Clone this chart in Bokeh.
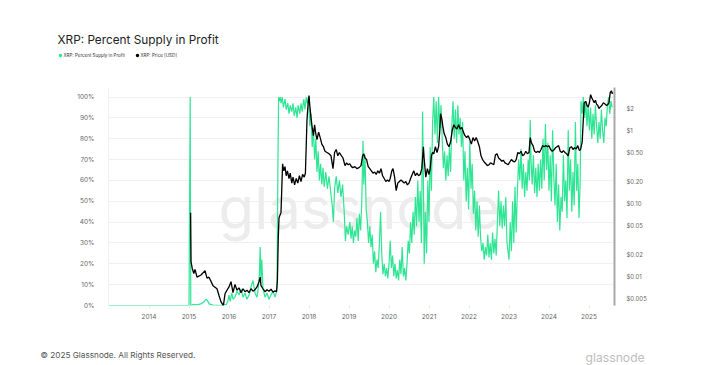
import pandas as pd
from bokeh.plotting import figure
from bokeh.layouts import column
from bokeh.models import Range1d, LogAxis, FixedTicker, Label, LogScale
from bokeh.embed import file_html
from bokeh.resources import INLINE

# ---------------- data (decimal years) ----------------
pct_t = [2013.0, 2015.0, 2015.03, 2015.045, 2015.06, 2015.1, 2015.2, 2015.3, 2015.36, 2015.42,
         2015.46, 2015.5, 2015.6, 2015.8, 2015.93, 2015.97, 2016.0, 2016.03, 2016.07, 2016.1,
         2016.15, 2016.2, 2016.25, 2016.3, 2016.35, 2016.4, 2016.45, 2016.5, 2016.55, 2016.6,
         2016.65, 2016.7, 2016.73, 2016.76, 2016.78, 2016.8, 2016.82, 2016.85, 2016.9, 2016.95,
         2017.0, 2017.05, 2017.1, 2017.15, 2017.18, 2017.2, 2017.22, 2017.24,
         2017.26, 2017.28, 2017.3, 2017.33, 2017.36, 2017.4, 2017.43, 2017.47, 2017.5, 2017.53,
         2017.57, 2017.6, 2017.63, 2017.67, 2017.7, 2017.73, 2017.77, 2017.8, 2017.83, 2017.87,
         2017.9, 2017.93, 2017.96, 2017.99,
         2018.02, 2018.05, 2018.08, 2018.11, 2018.14, 2018.17, 2018.2, 2018.23, 2018.26, 2018.29,
         2018.32, 2018.35, 2018.38, 2018.42, 2018.46, 2018.5, 2018.54, 2018.58, 2018.61, 2018.64,
         2018.68, 2018.72, 2018.76, 2018.8, 2018.84, 2018.88, 2018.91, 2018.94, 2018.98,
         2019.02, 2019.05, 2019.08, 2019.11, 2019.14, 2019.17, 2019.2, 2019.23, 2019.26, 2019.29,
         2019.32, 2019.35, 2019.37, 2019.4, 2019.43, 2019.46, 2019.49, 2019.52, 2019.55, 2019.58,
         2019.61, 2019.64, 2019.67, 2019.7, 2019.73, 2019.76, 2019.79, 2019.82, 2019.85, 2019.88,
         2019.91, 2019.94, 2019.97,
         2020.0, 2020.03, 2020.06, 2020.09, 2020.12, 2020.15, 2020.18, 2020.21, 2020.24, 2020.27,
         2020.3, 2020.33, 2020.36, 2020.39, 2020.42, 2020.45, 2020.48, 2020.51, 2020.54, 2020.57,
         2020.6, 2020.63, 2020.66, 2020.69, 2020.72, 2020.75, 2020.78, 2020.81, 2020.84, 2020.86,
         2020.88, 2020.91, 2020.94, 2020.97, 2021.0,
         2021.03, 2021.06, 2021.09, 2021.12, 2021.15, 2021.18, 2021.21, 2021.24, 2021.27, 2021.3,
         2021.33, 2021.36, 2021.39, 2021.42, 2021.45, 2021.48, 2021.51, 2021.54, 2021.57, 2021.6,
         2021.63, 2021.66, 2021.69, 2021.72, 2021.75, 2021.78, 2021.81, 2021.84, 2021.87, 2021.9,
         2021.93, 2021.96, 2021.99,
         2022.02, 2022.05, 2022.08, 2022.11, 2022.14, 2022.17, 2022.2, 2022.23, 2022.26, 2022.29,
         2022.32, 2022.35, 2022.38, 2022.41, 2022.44, 2022.47, 2022.5, 2022.53, 2022.56, 2022.59,
         2022.62, 2022.65, 2022.68, 2022.71, 2022.74, 2022.77, 2022.8, 2022.83, 2022.86, 2022.89,
         2022.92, 2022.95,
         2023.0, 2023.03, 2023.06, 2023.09, 2023.12, 2023.15, 2023.18, 2023.21, 2023.24, 2023.27,
         2023.3, 2023.33, 2023.36, 2023.39, 2023.42, 2023.45, 2023.48, 2023.51, 2023.53, 2023.55,
         2023.58, 2023.61, 2023.64, 2023.67, 2023.7, 2023.73, 2023.76, 2023.79, 2023.82, 2023.85,
         2023.88, 2023.91, 2023.94, 2023.97,
         2024.0, 2024.03, 2024.06, 2024.09, 2024.12, 2024.15, 2024.18, 2024.21, 2024.24, 2024.27,
         2024.3, 2024.33, 2024.36, 2024.39, 2024.42, 2024.45, 2024.48, 2024.51, 2024.54, 2024.57,
         2024.6, 2024.63, 2024.66, 2024.69, 2024.72, 2024.75, 2024.78, 2024.8, 2024.83, 2024.86,
         2024.89, 2024.92, 2024.95, 2024.98,
         2025.01, 2025.04, 2025.07, 2025.1, 2025.13, 2025.16, 2025.19, 2025.22, 2025.25, 2025.28,
         2025.31, 2025.34, 2025.37, 2025.4, 2025.43, 2025.46, 2025.49, 2025.52, 2025.55, 2025.58]
pct_v = [0, 0, 100, 0, 0, 0.5, 0.3, 0.8, 1.5, 3,
         2.5, 0.8, 0.2, 0, 0.5, 2, 5, 2, 6, 3,
         4, 7, 5, 8, 4, 6, 3, 5, 9, 12,
         6, 4, 8, 15, 28, 12, 22, 8, 4, 6,
         3, 5, 7, 4, 6, 10, 60, 100,
         98, 100, 97, 100, 95, 99, 94, 97, 92, 96,
         93, 97, 91, 95, 90, 96, 92, 97, 93, 99,
         94, 100, 97, 100,
         86, 92, 76, 85, 70, 80, 64, 74, 60, 68,
         58, 66, 57, 64, 56, 62, 55, 48, 40, 56,
         62, 54, 60, 52, 58, 45, 31, 38, 34,
         40, 32, 38, 30, 36, 33, 42, 31, 44, 36,
         50, 79, 58, 72, 46, 40, 30, 38, 28, 34,
         20, 26, 16, 22, 18, 30, 45, 24, 15, 20,
         14, 18, 13,
         20, 31, 18, 24, 14, 20, 13, 17, 12, 22,
         15, 28, 14, 18, 12, 20, 31, 25, 40, 30,
         45, 34, 52, 38, 60, 40, 55, 30, 93, 60,
         20, 45, 25, 60, 40,
         76, 55, 88, 100, 82, 98, 78, 100, 85, 96,
         80, 66, 74, 60, 72, 62, 76, 64, 86, 98,
         80, 94, 78, 96, 82, 90, 76, 88, 60, 74,
         50, 66, 46,
         79, 56, 68, 44, 55, 36, 50, 33, 48, 32,
         26, 30, 22, 28, 24, 34, 23, 30, 22, 35,
         25, 32, 24, 40, 55, 38, 50, 37, 48, 38,
         52, 30,
         22, 40, 26, 50, 30, 57, 35, 55, 70, 60,
         75, 56, 68, 52, 64, 55, 70, 60, 89, 70,
         58, 72, 54, 66, 52, 68, 55, 70, 56, 80,
         60, 87, 65, 78,
         55, 72, 50, 84, 62, 48, 68, 40, 58, 36,
         52, 45, 72, 50, 60, 42, 84, 55, 70, 45,
         64, 48, 88, 55, 68, 42, 60, 98, 92, 100,
         90, 98, 86, 96,
         84, 95, 80, 92, 82, 96, 86, 78, 88, 80,
         94, 84, 78, 90, 86, 96, 100, 92, 98, 95]

price_t = [2015.04, 2015.05, 2015.08, 2015.12, 2015.15, 2015.2, 2015.3, 2015.4, 2015.45, 2015.5,
           2015.6, 2015.7, 2015.75, 2015.8, 2015.86, 2015.9, 2015.95, 2016.0, 2016.05, 2016.1,
           2016.15, 2016.2, 2016.25, 2016.3, 2016.35, 2016.4, 2016.45, 2016.5, 2016.55, 2016.6,
           2016.65, 2016.7, 2016.75, 2016.78, 2016.8, 2016.85, 2016.9, 2016.95, 2017.0, 2017.05,
           2017.1, 2017.15, 2017.19, 2017.21, 2017.23, 2017.25, 2017.3, 2017.34, 2017.37, 2017.4,
           2017.43, 2017.46, 2017.5, 2017.53, 2017.57, 2017.6, 2017.64, 2017.68, 2017.72, 2017.76,
           2017.8, 2017.84, 2017.88, 2017.91, 2017.93, 2017.95, 2017.98, 2018.0, 2018.02, 2018.05,
           2018.08, 2018.11, 2018.14, 2018.17, 2018.2, 2018.24, 2018.28, 2018.32, 2018.36, 2018.4,
           2018.45, 2018.5, 2018.55, 2018.6, 2018.64, 2018.68, 2018.72, 2018.76, 2018.8, 2018.85,
           2018.9, 2018.94, 2018.98, 2019.02, 2019.06, 2019.1, 2019.15, 2019.2, 2019.25, 2019.3,
           2019.34, 2019.37, 2019.4, 2019.44, 2019.48, 2019.52, 2019.56, 2019.6, 2019.64, 2019.68,
           2019.72, 2019.76, 2019.8, 2019.84, 2019.88, 2019.92, 2019.96, 2020.0, 2020.03, 2020.07,
           2020.1, 2020.14, 2020.18, 2020.22, 2020.26, 2020.3, 2020.34, 2020.38, 2020.42, 2020.46,
           2020.5, 2020.54, 2020.58, 2020.62, 2020.66, 2020.7, 2020.74, 2020.78, 2020.82, 2020.86,
           2020.88, 2020.92, 2020.96, 2021.0, 2021.03, 2021.06, 2021.09, 2021.12, 2021.16, 2021.2,
           2021.24, 2021.27, 2021.29, 2021.32, 2021.35, 2021.38, 2021.42, 2021.46, 2021.5, 2021.54,
           2021.58, 2021.62, 2021.66, 2021.7, 2021.74, 2021.78, 2021.82, 2021.86, 2021.9, 2021.94,
           2021.98, 2022.02, 2022.06, 2022.1, 2022.14, 2022.18, 2022.22, 2022.26, 2022.3, 2022.34,
           2022.38, 2022.42, 2022.46, 2022.5, 2022.54, 2022.58, 2022.62, 2022.66, 2022.7, 2022.74,
           2022.78, 2022.82, 2022.86, 2022.9, 2022.94, 2022.98, 2023.02, 2023.06, 2023.1, 2023.14,
           2023.18, 2023.22, 2023.26, 2023.3, 2023.34, 2023.38, 2023.42, 2023.46, 2023.5, 2023.53,
           2023.56, 2023.6, 2023.64, 2023.68, 2023.72, 2023.76, 2023.8, 2023.84, 2023.88, 2023.92,
           2023.96, 2024.0, 2024.04, 2024.08, 2024.12, 2024.16, 2024.2, 2024.24, 2024.28, 2024.32,
           2024.36, 2024.4, 2024.44, 2024.48, 2024.52, 2024.56, 2024.6, 2024.64, 2024.68, 2024.72,
           2024.76, 2024.79, 2024.83, 2024.86, 2024.88, 2024.92, 2024.95, 2024.98, 2025.01, 2025.04,
           2025.07, 2025.1, 2025.13, 2025.16, 2025.19, 2025.22, 2025.25, 2025.28, 2025.32, 2025.36,
           2025.4, 2025.44, 2025.48, 2025.5, 2025.53, 2025.56, 2025.58, 2025.6]
price_v = [0.075, 0.016, 0.013, 0.011, 0.0125, 0.0098, 0.0105, 0.012, 0.0095, 0.0098,
           0.0075, 0.0068, 0.0055, 0.0045, 0.004, 0.0058, 0.0065, 0.0072, 0.0085, 0.006,
           0.0078, 0.0065, 0.007, 0.006, 0.0068, 0.0062, 0.0065, 0.006, 0.0068, 0.0063,
           0.0066, 0.0072, 0.0085, 0.0098, 0.0075, 0.0068, 0.0062, 0.0066, 0.0063, 0.0067,
           0.0061, 0.0064, 0.0062, 0.0088, 0.031, 0.064, 0.075, 0.35, 0.28, 0.32,
           0.24, 0.28, 0.22, 0.26, 0.19, 0.23, 0.18, 0.22, 0.19, 0.24,
           0.2, 0.25, 0.23, 0.26, 0.6, 1.4, 2.4, 3.0, 2.2, 1.5,
           1.1, 0.85, 1.2, 0.9, 0.75, 0.95, 0.8, 0.65, 0.6, 0.52,
           0.5, 0.48, 0.45, 0.3, 0.5, 0.55, 0.45, 0.5, 0.46, 0.42,
           0.33, 0.36, 0.34, 0.35, 0.32, 0.31, 0.32, 0.3, 0.31, 0.33,
           0.45, 0.48, 0.42, 0.4, 0.32, 0.3, 0.28, 0.26, 0.27, 0.25,
           0.28, 0.26, 0.3, 0.24, 0.22, 0.2, 0.21, 0.2, 0.22, 0.28,
           0.3, 0.23, 0.15, 0.19, 0.2, 0.21, 0.2, 0.19, 0.2, 0.18,
           0.19, 0.22, 0.25, 0.28, 0.24, 0.26, 0.24, 0.25, 0.3, 0.6,
           0.4, 0.23, 0.3, 0.25, 0.3, 0.45, 0.5, 0.48, 0.6, 0.5,
           0.6, 1.0, 1.7, 1.45, 1.1, 0.9, 0.8, 0.65, 0.6, 0.7,
           1.0, 1.2, 1.1, 1.05, 1.2, 1.05, 1.1, 0.95, 0.85, 0.8,
           0.85, 0.75, 0.65, 0.8, 0.72, 0.8, 0.7, 0.6, 0.45, 0.4,
           0.37, 0.35, 0.33, 0.34, 0.36, 0.35, 0.34, 0.46, 0.48, 0.42,
           0.4, 0.38, 0.39, 0.36, 0.35, 0.34, 0.37, 0.4, 0.38, 0.37,
           0.4, 0.5, 0.48, 0.52, 0.45, 0.47, 0.52, 0.48, 0.5, 0.8,
           0.68, 0.62, 0.52, 0.5, 0.52, 0.5, 0.55, 0.62, 0.6, 0.62,
           0.6, 0.62, 0.55, 0.52, 0.54, 0.58, 0.6, 0.62, 0.52, 0.5,
           0.53, 0.5, 0.48, 0.45, 0.58, 0.6, 0.55, 0.58, 0.56, 0.62,
           0.53, 0.55, 0.7, 1.5, 2.4, 2.5, 2.2, 2.1, 2.4, 3.1,
           2.8, 2.6, 2.4, 2.6, 2.3, 2.2, 2.0, 2.1, 2.2, 2.4,
           2.3, 2.2, 2.3, 2.4, 3.3, 3.5, 3.2, 3.3]

year_ticks = [2014, 2015, 2016, 2017, 2018, 2019, 2020, 2021, 2022, 2023, 2024, 2025]
pct_ticks = [0, 10, 20, 30, 40, 50, 60, 70, 80, 90, 100]
price_ticks = [0.005, 0.01, 0.02, 0.05, 0.1, 0.2, 0.5, 1, 2]
price_labels = ["$0.005", "$0.01", "$0.02", "$0.05", "$0.10", "$0.20", "$0.50", "$1", "$2"]
series_names = ["XRP: Percent Supply in Profit", "XRP: Price [USD]"]

GREEN = "#2ee593"
FONT = "Inter"
W = 715


def blank(height, top):
    """A figure whose frame is the whole canvas; y counts down from the page position `top`."""
    f = figure(width=W, height=height, output_backend="svg", toolbar_location=None,
               x_range=Range1d(0, W), y_range=Range1d(top + height, top),
               x_axis_type=None, y_axis_type=None, min_border=0, frame_align=False)
    f.outline_line_color = None
    f.grid.visible = False
    f.background_fill_color = "white"
    f.border_fill_color = "white"
    return f


def txt(f, text, x, y, size, color, font=FONT, baseline="middle"):
    f.add_layout(Label(x=x, y=y, text=text, text_font=font, text_font_size=size,
                       text_color=color, text_baseline=baseline))


# ---------------- header: title + legend ----------------
head = blank(87, 0)
txt(head, "XRP: Percent Supply in Profit", 57, 39, "11.8px", "#222222", baseline="alphabetic")
head.scatter([60, 137], [55, 55], size=3.5, color=[GREEN, "black"], line_color=None)
txt(head, series_names[0], 63, 55.3, "4.5px", "#333333")
txt(head, series_names[1], 140, 55.3, "4.5px", "#333333")

# ---------------- main chart ----------------
p = figure(width=W, height=248, output_backend="svg", toolbar_location=None,
           x_range=Range1d(2012.9875, 2025.6375), y_range=Range1d(0, 104.56),
           min_border_left=108, min_border_right=101, min_border_top=0, min_border_bottom=30,
           frame_align=False)
p.outline_line_color = None
p.background_fill_color = "white"
p.border_fill_color = "white"

p.extra_y_ranges = {"price": Range1d(0.00401, 3.88)}
p.extra_y_scales = {"price": LogScale()}

# watermark
p.add_layout(Label(x=2015.74, y=47.0, text="glassnode", text_font=FONT, text_font_size="58px",
                   text_color="#ececec", text_baseline="alphabetic", level="underlay"))

p.line(pct_t, pct_v, line_color=GREEN, line_width=1.2)
p.line(price_t, price_v, y_range_name="price", line_color="black", line_width=1.3)

xa = p.xaxis[0]
xa.ticker = FixedTicker(ticks=year_ticks)
xa.major_label_overrides = {y: str(y) for y in year_ticks}
xa.axis_line_color = None
xa.major_tick_line_color = "#e6e6e6"
xa.major_tick_out = 3
xa.major_tick_in = 0
xa.minor_tick_line_color = None
xa.major_label_text_font = FONT
xa.major_label_text_font_size = "6.5px"
xa.major_label_text_color = "#666666"
xa.major_label_standoff = 5

ya = p.yaxis[0]
ya.ticker = FixedTicker(ticks=pct_ticks)
ya.major_label_overrides = {v: f"{v}%" for v in pct_ticks}
ya.axis_line_color = "#f0f0f0"
ya.major_tick_line_color = None
ya.minor_tick_line_color = None
ya.major_label_text_font = FONT
ya.major_label_text_font_size = "6.5px"
ya.major_label_text_color = "#666666"
ya.major_label_standoff = 8

ra = LogAxis(y_range_name="price", ticker=FixedTicker(ticks=price_ticks),
             major_label_overrides={v: s for v, s in zip(price_ticks, price_labels)})
ra.axis_line_color = "#a8a8a8"
ra.axis_line_width = 2
ra.major_tick_line_color = None
ra.minor_tick_line_color = None
ra.major_label_text_font = FONT
ra.major_label_text_font_size = "6px"
ra.major_label_text_color = "#666666"
ra.major_label_standoff = 6
p.add_layout(ra, "right")

p.xgrid.grid_line_color = None
p.ygrid.grid_line_color = "#f0f0f0"

# ---------------- footer ----------------
foot = blank(30, 335)
txt(foot, "© 2025 Glassnode. All Rights Reserved.", 40, 354, "8.2px", "#555555")
txt(foot, "glassnode", 585, 357, "12.2px", "#bdbdbd", baseline="alphabetic")

layout = column(head, p, foot, spacing=0)
open("out.html", "w").write(file_html(layout, INLINE))
